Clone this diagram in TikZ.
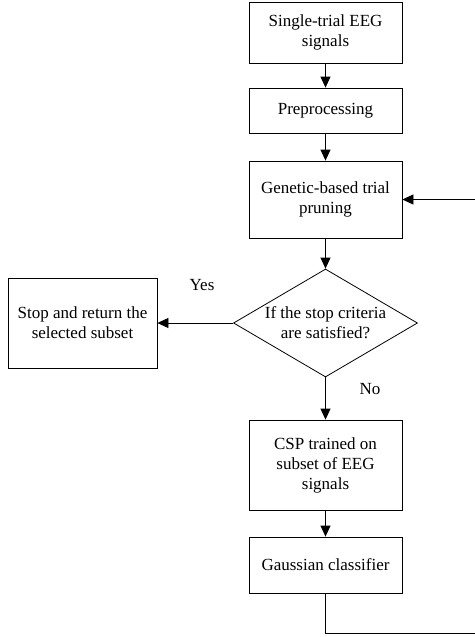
\documentclass[tikz,border=0pt]{standalone}
\usepackage{fontspec}
\setmainfont{Liberation Serif}
\usetikzlibrary{shapes.geometric,arrows.meta}
\begin{document}
\begin{tikzpicture}[x=1pt,y=-1pt,
  font=\fontsize{17}{20}\selectfont,
  every path/.style={line width=0.8pt},
  box/.style={draw,rectangle,align=center,inner sep=0pt,minimum width=153pt},
  arr/.style={-{Triangle[width=10pt,length=11pt]}},
  lbl/.style={inner sep=0pt}]
\useasboundingbox (0,0) rectangle (474,637);
\node[box,minimum height=61pt] (b1) at (325.5,32.5) {Single-trial EEG\\signals};
\node[box,minimum height=45pt] (b2) at (325.5,110.5) {Preprocessing};
\node[box,minimum height=77pt] (b3) at (325.5,199.5) {Genetic-based trial\\pruning};
\node[draw,diamond,minimum width=184pt,minimum height=108pt,inner sep=0pt] (dec) at (325.5,323) {};
\node[align=center,inner sep=0pt] (dect) at (dec.center) {If the stop criteria\\are satisfied?};
\node[box,minimum width=149pt,minimum height=90pt] (stop) at (82.5,323) {Stop and return the\\selected subset};
\node[box,minimum height=90pt] (csp) at (325.5,465) {CSP trained on\\subset of EEG\\signals};
\node[box,minimum height=56pt] (gc) at (325.5,565) {Gaussian classifier};
\node[lbl] (yes) at (202,285) {Yes};
\node[lbl] (no) at (370,389) {No};
\coordinate (c1) at (325.5,633);
\coordinate (c2) at (480,633);
\coordinate (c3) at (480,199.5);
\draw[arr] (b1) -- (b2);
\draw[arr] (b2) -- (b3);
\draw[arr] (b3) -- (dec.north);
\draw[arr] (dec.west) -- (stop.east);
\draw[arr] (dec.south) -- (csp.north);
\draw[arr] (csp) -- (gc);
\draw[arr] (gc.south) -- (c1) -- (c2) -- (c3) -- (b3.east);
\end{tikzpicture}
\end{document}
